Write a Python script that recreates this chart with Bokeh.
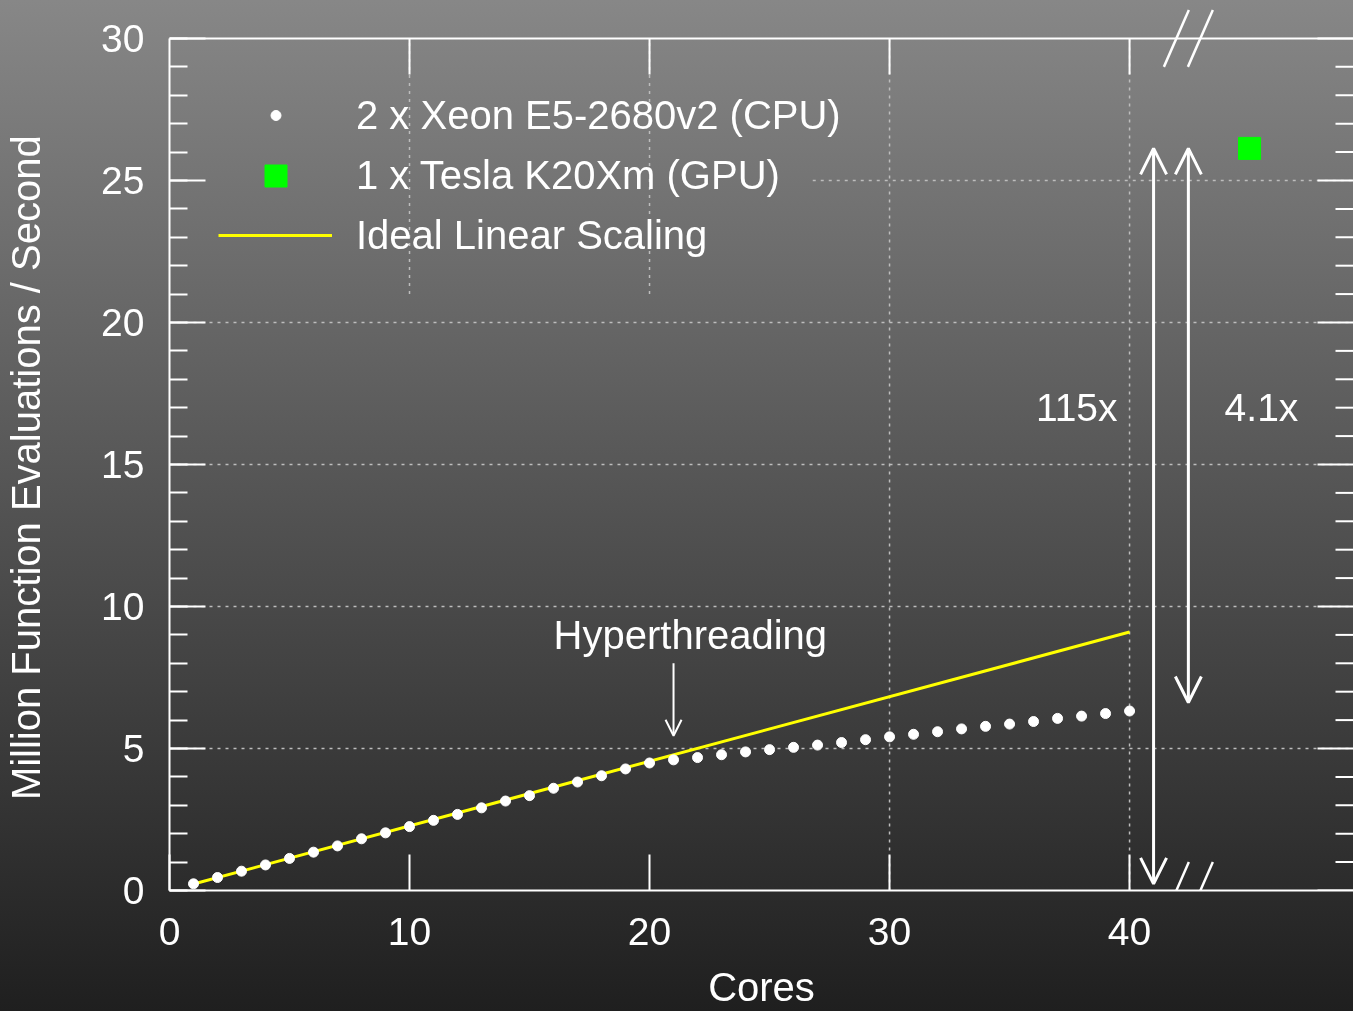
from bokeh.plotting import figure
from bokeh.models import (Range1d, FixedTicker, Legend, LegendItem,
                          Arrow, OpenHead, Label, InlineStyleSheet)
from bokeh.embed import file_html
from bokeh.resources import INLINE

# ---------------- data ----------------
cores = list(range(1, 41))
cpu_rate = [0.235, 0.457, 0.68, 0.90, 1.13, 1.35, 1.57, 1.82, 2.03, 2.25,
            2.47, 2.68, 2.91, 3.15, 3.34, 3.60, 3.82, 4.04, 4.28, 4.49,
            4.60, 4.68, 4.78, 4.88, 4.96, 5.04, 5.12, 5.21, 5.31, 5.41,
            5.50, 5.59, 5.69, 5.78, 5.86, 5.95, 6.06, 6.14, 6.23, 6.32]
gpu_x = [45]
gpu_rate = [26.13]
ideal_x = [1, 40]
ideal_rate = [0.2275, 9.10]

x_ticks = [0, 10, 20, 30, 40]
y_ticks = [0, 5, 10, 15, 20, 25, 30]
y_minor = list(range(0, 31))

cpu_label = "2 x Xeon E5-2680v2 (CPU)"
gpu_label = "1 x Tesla K20Xm (GPU)"
ideal_label = "Ideal Linear Scaling"
ht_label = "Hyperthreading"
ht_core = 21
speedup_all = "115x"
speedup_40 = "4.1x"
x_title = "Cores"
y_title = "Million Function Evaluations / Second"

# ---------------- layout constants ----------------
X_MAX = 49.33           # right edge of the plotting area
Y_AXIS_TOP = 30         # top border of the chart
Y_TOP = 31.337          # room above the top border for the break marks
PX_X, PX_Y = 24.0, 28.43   # pixels per data unit
MAJOR_LEN, MINOR_LEN = 36, 18
LEGEND_X, LEGEND_Y = 26.8, 21.0      # legend area keeps the grid clear
BREAK_X = 42.45
FONT = "Liberation Sans"
WHITE = "#ffffff"
GRID = "#bdbdbd"
NBSP = "\u00a0"

css = InlineStyleSheet(css="""
:host::before {
  content: ""; position: fixed; left: 0; top: 0; width: 100vw; height: 100vh;
  background: linear-gradient(to bottom, #878787 0%, #1f1f1f 100%);
  z-index: -1;
}
""")

p = figure(width=1353, height=1011, output_backend="svg", toolbar_location=None,
           x_range=Range1d(0, X_MAX), y_range=Range1d(0, Y_TOP),
           min_border_left=169, min_border_top=0, min_border_bottom=120,
           min_border_right=0)
p.stylesheets = [css]
p.background_fill_color = None
p.border_fill_color = None
p.outline_line_color = None
p.xgrid.visible = False
p.ygrid.visible = False

# ---------------- axes ----------------
def style_axis(ax):
    ax.axis_line_color = WHITE
    ax.axis_line_width = 2
    ax.major_tick_line_color = WHITE
    ax.major_tick_line_width = 2
    ax.minor_tick_line_color = WHITE
    ax.minor_tick_line_width = 2
    ax.major_tick_in = MAJOR_LEN
    ax.major_tick_out = 0
    ax.minor_tick_in = MINOR_LEN
    ax.minor_tick_out = 0
    ax.major_label_text_color = WHITE
    ax.major_label_text_font = FONT
    ax.major_label_text_font_size = "39px"
    ax.axis_label_text_color = WHITE
    ax.axis_label_text_font = FONT
    ax.axis_label_text_font_size = "40px"
    ax.axis_label_text_font_style = "normal"

xa = p.xaxis[0]
style_axis(xa)
xa.ticker = FixedTicker(ticks=x_ticks, minor_ticks=[])
xa.major_label_standoff = 27
xa.axis_label = x_title
xa.axis_label_standoff = 17

ya = p.yaxis[0]
style_axis(ya)
ya.bounds = (0, Y_AXIS_TOP)
ya.ticker = FixedTicker(ticks=y_ticks, minor_ticks=y_minor)
ya.major_label_standoff = 25
# centre the title on the 0-30 axis rather than on the taller plot area
ya.axis_label = y_title + NBSP * 4
ya.axis_label_standoff = 50

# ---------------- grid (dotted, kept clear of the key) ----------------
vx = [x for x in x_ticks if 0 < x < X_MAX]
vy0 = [LEGEND_Y if x < LEGEND_X else 0 for x in vx]
vy1 = [Y_AXIS_TOP for _ in vx]
hy = [y for y in y_ticks if 0 < y < Y_AXIS_TOP]
hx0 = [LEGEND_X if y > LEGEND_Y else 0 for y in hy]
hx1 = [X_MAX for _ in hy]
p.segment(x0=vx, y0=vy0, x1=vx, y1=vy1, line_color=GRID,
          line_width=1.5, line_dash="3 5")
p.segment(x0=hx0, y0=hy, x1=hx1, y1=hy, line_color=GRID,
          line_width=1.5, line_dash="3 5")

# ---------------- top border and mirrored ticks ----------------
p.segment(x0=[0], y0=[Y_AXIS_TOP], x1=[X_MAX], y1=[Y_AXIS_TOP],
          line_color=WHITE, line_width=2)
tx = [x for x in x_ticks if x > 0]
p.segment(x0=tx, y0=[Y_AXIS_TOP] * len(tx), x1=tx,
          y1=[Y_AXIS_TOP - MAJOR_LEN / PX_Y] * len(tx),
          line_color=WHITE, line_width=2)
ry_minor = [y for y in y_minor if y not in y_ticks]
p.segment(x0=[X_MAX - MINOR_LEN / PX_X] * len(ry_minor), y0=ry_minor,
          x1=[X_MAX] * len(ry_minor), y1=ry_minor,
          line_color=WHITE, line_width=2)
p.segment(x0=[X_MAX - MAJOR_LEN / PX_X] * len(y_ticks), y0=y_ticks,
          x1=[X_MAX] * len(y_ticks), y1=y_ticks,
          line_color=WHITE, line_width=2)

# axis break marks "//" on the top and bottom borders
bx0, by0, bx1, by1 = [], [], [], []
for yb in (0, Y_AXIS_TOP):
    for dx in (-0.5, 0.5):
        bx0.append(BREAK_X + dx - 0.52)
        by0.append(yb - 1.0)
        bx1.append(BREAK_X + dx + 0.52)
        by1.append(yb + 1.0)
p.segment(x0=bx0, y0=by0, x1=bx1, y1=by1, line_color=WHITE, line_width=2.5)

# ---------------- data glyphs ----------------
ideal_r = p.line(ideal_x, ideal_rate, line_color="#ffff00", line_width=3)
cpu_r = p.scatter(cores, cpu_rate, marker="circle", size=10,
                  fill_color=WHITE, line_color=WHITE)
gpu_r = p.scatter(gpu_x, gpu_rate, marker="square", size=22,
                  fill_color="#00ff00", line_color="#00ff00")

# ---------------- legend (one per row) ----------------
def make_legend(label, r, loc, gw, gh, standoff):
    lg = Legend(items=[LegendItem(label=label, renderers=[r])], location=loc,
                glyph_width=gw, glyph_height=gh, label_height=gh,
                label_standoff=standoff, padding=0, margin=0, spacing=0,
                border_line_color=None, background_fill_alpha=0,
                label_text_font=FONT, label_text_font_size="40px",
                label_text_color=WHITE)
    p.add_layout(lg, "center")

make_legend(cpu_label, cpu_r, (94, 750), 25, 50, 68)
make_legend(gpu_label, gpu_r, (79, 687.5), 55, 55, 53)
make_legend(ideal_label, ideal_r, (49, 630), 114, 50, 24)

# ---------------- annotations ----------------
p.add_layout(Arrow(x_start=ht_core, y_start=8.0, x_end=ht_core, y_end=5.45,
                   line_color=WHITE, line_width=2,
                   end=OpenHead(size=16, line_color=WHITE, line_width=2)))
p.add_layout(Label(x=21.7, y=9.0, text=ht_label, text_align="center",
                   text_baseline="middle", text_color=WHITE, text_font=FONT,
                   text_font_size="40px"))

p.add_layout(Arrow(x_start=41, y_start=cpu_rate[0], x_end=41, y_end=gpu_rate[0],
                   line_color=WHITE, line_width=3,
                   start=OpenHead(size=26, line_color=WHITE, line_width=3),
                   end=OpenHead(size=26, line_color=WHITE, line_width=3)))
p.add_layout(Arrow(x_start=BREAK_X, y_start=cpu_rate[-1] + 0.3, x_end=BREAK_X,
                   y_end=gpu_rate[0], line_color=WHITE, line_width=3,
                   start=OpenHead(size=26, line_color=WHITE, line_width=3),
                   end=OpenHead(size=26, line_color=WHITE, line_width=3)))
p.add_layout(Label(x=39.5, y=17, text=speedup_all, text_align="right",
                   text_baseline="middle", text_color=WHITE, text_font=FONT,
                   text_font_size="39px"))
p.add_layout(Label(x=43.96, y=17, text=speedup_40, text_align="left",
                   text_baseline="middle", text_color=WHITE, text_font=FONT,
                   text_font_size="39px"))

open("out.html", "w").write(file_html(p, INLINE))
